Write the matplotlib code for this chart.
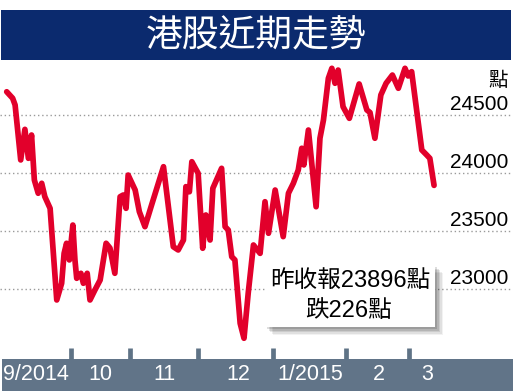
import matplotlib
matplotlib.use("Agg")
import matplotlib.pyplot as plt
from matplotlib.patches import Rectangle
from matplotlib.transforms import blended_transform_factory

plt.rcParams['font.family'] = ['Liberation Sans', 'Noto Sans CJK TC', 'DejaVu Sans']

# ---- data (trading-session position, Hang Seng Index close) ----
session = [0, 1.7, 2.4, 4.0, 5.2, 6.2, 7.1, 7.9, 9.0, 10.0, 10.9, 12.4, 14.3,
           15.7, 16.4, 17.1, 17.9, 18.9, 19.5, 20.0, 21.2, 21.9, 23.0, 23.8,
           25.2, 26.7, 28.4, 29.5, 30.9, 32.4, 33.3, 34.1, 34.7, 36.7, 37.9,
           39.5, 41.4, 44.8, 47.6, 49.0, 50.5, 51.2, 52.2, 52.9, 54.7, 56.0,
           56.9, 58.1, 58.9, 61.4, 62.4, 63.3, 64.3, 65.2, 66.7, 67.8, 69.0,
           70.5, 72.4, 73.8, 74.8, 76.7, 79.0, 80.5, 81.9, 83.3, 84.3, 84.9,
           86.2, 88.4, 89.5, 90.5, 91.9, 92.9, 93.8, 94.7, 96.1, 97.9, 100.7,
           102.9, 103.8, 105.2, 106.9, 108.4, 110.2, 111.9, 113.8, 114.7,
           115.7, 118.6, 120.0, 120.9, 122.1]
hsi = [24703, 24647, 24589, 24115, 24379, 24129, 24330, 23942, 23828, 23914,
       23798, 23698, 22908, 23052, 23310, 23397, 23253, 23554, 23253, 23095,
       23138, 23052, 23138, 22908, 22994, 23080, 23397, 23356, 23138, 23798,
       23813, 23698, 23985, 23856, 23669, 23540, 23727, 24057, 23367, 23339,
       23425, 23885, 23841, 24100, 24000, 23354, 23641, 23425, 23871, 24043,
       23540, 23511, 23281, 23253, 22707, 22578, 22966, 23382, 23310, 23755,
       23483, 23856, 23454, 23828, 23914, 24028, 24216, 24072, 24373, 23712,
       24302, 24459, 24819, 24905, 24776, 24890, 24574, 24474, 24770, 24546,
       24524, 24302, 24675, 24776, 24847, 24733, 24905, 24839, 24876, 24201,
       24158, 24129, 23896]

month_bounds = [18.3, 35.2, 54.7, 76.1, 96.9, 114.9]
month_labels = ["9/2014", "10", "11", "12", "1/2015", "2", "3"]
month_label_pos = [8.3, 26.8, 45.2, 66.1, 86.8, 106.2, 120.1]
y_ticks = [24500, 24000, 23500, 23000]
y_tick_labels = ["24500", "24000", "23500", "23000"]
title = "港股近期走勢"
unit = "點"
note = "昨收報23896點\n跌226點"

# ---- layout (pixels) ----
W, H = 513, 391
fig = plt.figure(figsize=(W / 100, H / 100), dpi=100)
fig.patch.set_facecolor('white')

ax_top_px, ax_bot_px = 60, 359
ax = fig.add_axes([0, (H - ax_bot_px) / H, 1, (ax_bot_px - ax_top_px) / H])
ax.set_facecolor('white')
ax.set_zorder(1)

x0_px, px_per_day = 6.7, 3.5
ax.set_xlim((0 - x0_px) / px_per_day, (W - x0_px) / px_per_day)
y_ref_px, y_ref, per_px = 115.3, 24500, 8.62
ax.set_ylim(y_ref - (ax_bot_px - y_ref_px) * per_px,
            y_ref + (y_ref_px - ax_top_px) * per_px)

for s in ax.spines.values():
    s.set_visible(False)

# grid lines
for v in y_ticks:
    ax.axhline(v, color='#9a9a9a', lw=1.0, linestyle=(0, (1, 2)), zorder=1)

# line
ax.plot(session, hsi, color='#e2002b', lw=4.1, solid_joinstyle='round',
        solid_capstyle='round', zorder=3)

# month boundary ticks
ax.set_xticks(month_bounds)
ax.set_xticklabels([])
ax.set_yticks([])
ax.tick_params(axis='x', direction='in', length=8, width=3.4, color='#5f7386')

# y labels
fx = blended_transform_factory(fig.transFigure, ax.transData)
for v, lab in zip(y_ticks, y_tick_labels):
    ax.annotate(lab, xy=(508 / W, v), xycoords=fx, xytext=(0, 3.6),
                textcoords='offset points', ha='right', va='baseline',
                fontsize=15, color='black', zorder=5)
fig.text(508 / W, (H - 80) / H, unit, ha='right', va='center', fontsize=14,
         color='black', family=['Noto Sans CJK TC'])

# bottom bar
fig.patches.append(Rectangle((1.5 / W, 0), 1, (H - ax_bot_px) / H, transform=fig.transFigure,
                             facecolor='#617488', edgecolor='none', zorder=0))
bx = blended_transform_factory(ax.transData, fig.transFigure)
for p, lab in zip(month_label_pos, month_labels):
    fig.text(p, (H - 375) / H, lab, transform=bx, ha='center', va='center',
             fontsize=15.5, color='white', zorder=10)

# title bar
fig.patches.append(Rectangle((1 / W, (H - 60) / H), 510 / W, 50 / H,
                             transform=fig.transFigure, facecolor='#0b2a6e',
                             edgecolor='none', zorder=0))
fig.text(256 / W, (H - 36) / H, title, ha='center', va='center', fontsize=26.5,
         color='white', family=['Noto Sans CJK TC'], zorder=10)

# annotation box with shadow
bx0, by0, bx1, by1 = 265, 265, 435, 327
for i, a in enumerate([0.05, 0.07, 0.09, 0.11, 0.13]):
    off = 8 - i * 1.5
    fig.patches.append(Rectangle(((bx0 + off) / W, (H - by1 - off) / H),
                                 (bx1 - bx0) / W, (by1 - by0) / H,
                                 transform=fig.transFigure, facecolor='black',
                                 alpha=a, edgecolor='none', zorder=6))
fig.patches.append(Rectangle((bx0 / W, (H - by1) / H), (bx1 - bx0) / W, (by1 - by0) / H,
                             transform=fig.transFigure, facecolor='white',
                             edgecolor='none', zorder=7))
line1, line2 = note.split("\n")
fig.text(350 / W, (H - 281) / H, line1, ha='center', va='center', fontsize=17,
         color='black', zorder=8)
fig.text(349 / W, (H - 311) / H, line2, ha='center', va='center', fontsize=17,
         color='black', zorder=8)

fig.savefig("out.png", dpi=100, facecolor='white')
